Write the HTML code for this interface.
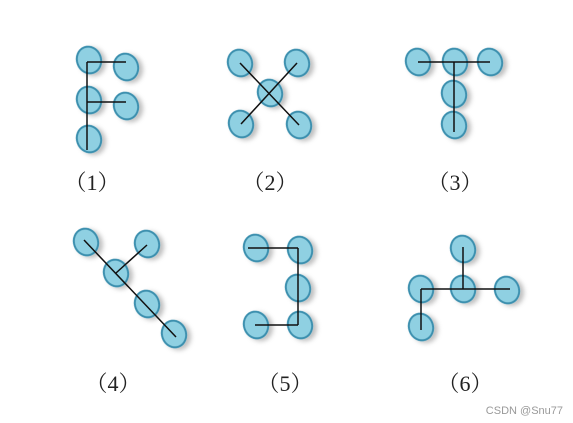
<!DOCTYPE html>
<html><head><meta charset="utf-8"><style>
body{margin:0;background:#fff;width:573px;height:423px;overflow:hidden}
svg{display:block}
</style></head><body>
<svg width="573" height="423">
<defs><filter id="sh" x="-50%" y="-50%" width="200%" height="200%"><feDropShadow dx="3" dy="3" stdDeviation="2.5" flood-color="#000" flood-opacity="0.25"/></filter></defs>
<g id="nodes"></g><g id="lines"></g><g id="labels"></g>
<text x="563" y="414" text-anchor="end" font-family="Liberation Sans, sans-serif" font-size="11" fill="#999">CSDN @Snu77</text>
</svg>
<script>
const figLabels=["（1）","（2）","（3）","（4）","（5）","（6）"];
const labelPos=[[92,190],[270,190],[455,190],[113,391],[285,391],[465,391]];
const nodes=[
[[89,60],[126,67],[89,100],[126,106],[89,139]],
[[240,63],[297,63],[270,93],[241,124],[299,125]],
[[418,62],[455,62],[490,62],[454,94],[454,125]],
[[86,242],[147,244],[116,273],[147,304],[174,334]],
[[256,248],[300,250],[298,288],[256,325],[300,325]],
[[463,249],[421,289],[463,289],[507,290],[421,327]]];
const lines=[
[[87,62,87,150],[87,62,126,62],[87,102,126,102]],
[[240,63,299,125],[297,63,241,124]],
[[418,62,490,62],[454,62,454,132]],
[[84,240,176,337],[147,245,116,273]],
[[248,248,298,248],[298,248,298,325],[255,325,298,325]],
[[463,247,463,289],[421,289,510,289],[421,289,421,330]]];
const NS="http://www.w3.org/2000/svg";
const gN=document.getElementById('nodes'),gL=document.getElementById('lines'),gT=document.getElementById('labels');
nodes.forEach((f,i)=>f.forEach((p,j)=>{
 const e=document.createElementNS(NS,'ellipse');
 e.setAttribute('cx',p[0]);e.setAttribute('cy',p[1]);e.setAttribute('rx',12);e.setAttribute('ry',13.5);
 e.setAttribute('transform','rotate(-20 '+p[0]+' '+p[1]+')');
 e.setAttribute('fill','#8fd0e2');e.setAttribute('stroke','#3b8fae');e.setAttribute('stroke-width','2');e.setAttribute('filter','url(#sh)');
 
 
 gN.appendChild(e);}));
lines.forEach(f=>f.forEach(l=>{
 const e=document.createElementNS(NS,'line');
 e.setAttribute('x1',l[0]);e.setAttribute('y1',l[1]);e.setAttribute('x2',l[2]);e.setAttribute('y2',l[3]);
 e.setAttribute('stroke','#111');e.setAttribute('stroke-width','1.5');
 
 
 gL.appendChild(e);}));
figLabels.forEach((t,i)=>{
 const e=document.createElementNS(NS,'text');
 e.setAttribute('x',labelPos[i][0]);e.setAttribute('y',labelPos[i][1]);e.setAttribute('text-anchor','middle');
 e.setAttribute('font-family','Liberation Serif, Noto Serif CJK SC, serif');e.setAttribute('font-size','22');e.setAttribute('fill','#222');
 e.textContent=t;
 
 
 gT.appendChild(e);});
</script>
</body></html>
